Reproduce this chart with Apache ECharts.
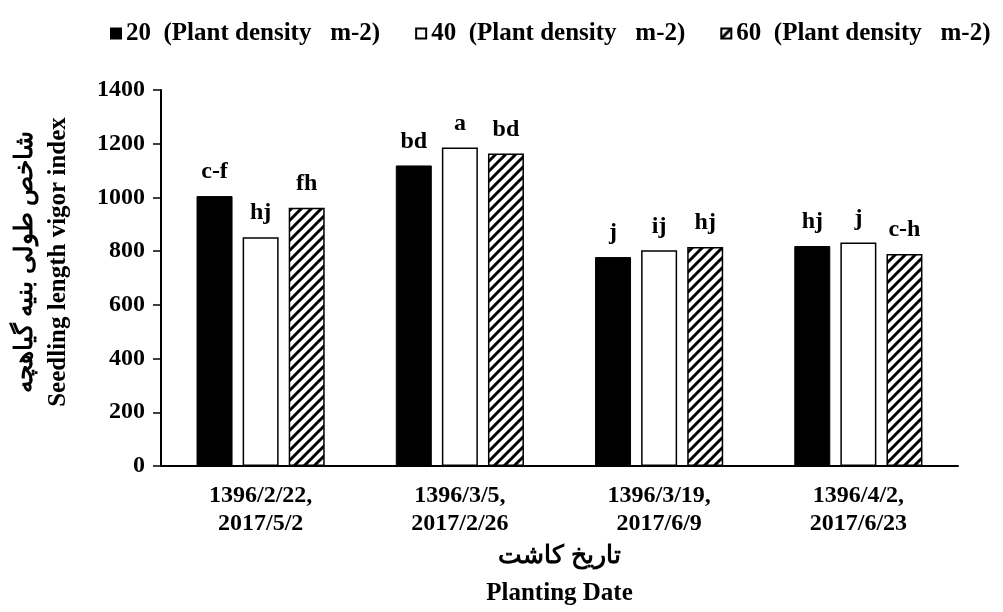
<!DOCTYPE html>
<html>
<head>
<meta charset="utf-8">
<script src="https://cdn.jsdelivr.net/npm/echarts@6/dist/echarts.min.js"></script>
<style>
  html, body { margin: 0; padding: 0; background: #fff; }
  #chart { width: 1003px; height: 612px; }
</style>
</head>
<body>
<div id="chart"></div>
<script>
// planting dates (Persian calendar, Gregorian)
var categories = ['1396/2/22,\n2017/5/2', '1396/3/5,\n2017/2/26', '1396/3/19,\n2017/6/9', '1396/4/2,\n2017/6/23'];
var seriesNames = ['20  (Plant density   m-2)', '40  (Plant density   m-2)', '60  (Plant density   m-2)'];

var density20 = [1005, 1119, 778, 819];
var density40 = [852, 1186, 803, 832];
var density60 = [962, 1164, 815, 789];

// mean comparison letters
var letters20 = ['c-f', 'bd', 'j', 'hj'];
var letters40 = ['hj', 'a', 'ij', 'j'];
var letters60 = ['fh', 'bd', 'hj', 'c-h'];

var yTicks = { min: 0, max: 1400, interval: 200 };

var font = 'Liberation Serif';
var fs = 24;

// diagonal hatch fill
function hatch() {
  var c = document.createElement('canvas');
  c.width = 10; c.height = 10;
  var ctx = c.getContext('2d');
  ctx.fillStyle = '#fff';
  ctx.fillRect(0, 0, 10, 10);
  ctx.strokeStyle = '#000';
  ctx.lineWidth = 3;
  ctx.beginPath();
  ctx.moveTo(-2, 12); ctx.lineTo(12, -2);
  ctx.moveTo(-7, 7); ctx.lineTo(7, -7);
  ctx.moveTo(3, 17); ctx.lineTo(17, 3);
  ctx.stroke();
  return c;
}

function barSeries(name, data, letters, itemStyle) {
  return {
    name: name,
    type: 'bar',
    barWidth: 36,
    barGap: '28%',
    data: data,
    itemStyle: itemStyle,
    label: {
      show: true,
      position: 'top',
      distance: 12,
      color: '#000',
      fontFamily: font,
      fontWeight: 'bold',
      fontSize: fs,
      formatter: function (p) { return letters[p.dataIndex]; }
    }
  };
}

var chart = echarts.init(document.getElementById('chart'));

var option = {
  animation: false,
  backgroundColor: '#fff',
  legend: {
    left: 105,
    top: 16,
    icon: 'rect',
    itemWidth: 10,
    itemHeight: 10,
    itemGap: 35,
    textStyle: {
      color: '#000',
      fontFamily: font,
      fontWeight: 'bold',
      fontSize: 25
    },
    data: seriesNames
  },
  grid: {
    left: 161,
    right: 45,
    top: 90,
    bottom: 146,
    outerBoundsMode: 'none'
  },
  xAxis: {
    type: 'category',
    data: categories,
    name: 'تاریخ کاشت\nPlanting Date',
    nameLocation: 'middle',
    nameMoveOverlap: false,
    nameGap: 72,
    nameTextStyle: {
      color: '#000',
      fontFamily: font,
      fontWeight: 'bold',
      fontSize: 25,
      lineHeight: 37
    },
    axisLine: { lineStyle: { color: '#000', width: 2 } },
    axisTick: { show: false },
    axisLabel: {
      color: '#000',
      fontFamily: font,
      fontWeight: 'bold',
      fontSize: fs,
      lineHeight: 28,
      margin: 16
    }
  },
  yAxis: {
    type: 'value',
    min: yTicks.min,
    max: yTicks.max,
    interval: yTicks.interval,
    name: 'شاخص طولی بنیه گیاهچه\nSeedling length vigor index',
    nameLocation: 'middle',
    nameRotate: 90,
    nameMoveOverlap: false,
    nameGap: 86,
    nameTextStyle: {
      color: '#000',
      fontFamily: font,
      fontWeight: 'bold',
      fontSize: 25,
      lineHeight: 33,
      padding: [0, 0, 0, 32]
    },
    splitLine: { show: false },
    axisLine: { show: true, lineStyle: { color: '#000', width: 2 } },
    axisTick: { show: true, length: 8, lineStyle: { color: '#000', width: 1.5 } },
    axisLabel: {
      color: '#000',
      fontFamily: font,
      fontWeight: 'bold',
      fontSize: fs,
      margin: 16,
      formatter: function (v) { return String(v); }
    }
  },
  series: [
    barSeries(seriesNames[0], density20, letters20, { color: '#000', borderColor: '#000', borderWidth: 1 }),
    barSeries(seriesNames[1], density40, letters40, { color: '#fff', borderColor: '#000', borderWidth: 1.5 }),
    barSeries(seriesNames[2], density60, letters60, { color: { image: hatch(), repeat: 'repeat' }, borderColor: '#000', borderWidth: 1.5 })
  ]
};

chart.setOption(option);
</script>
</body>
</html>
